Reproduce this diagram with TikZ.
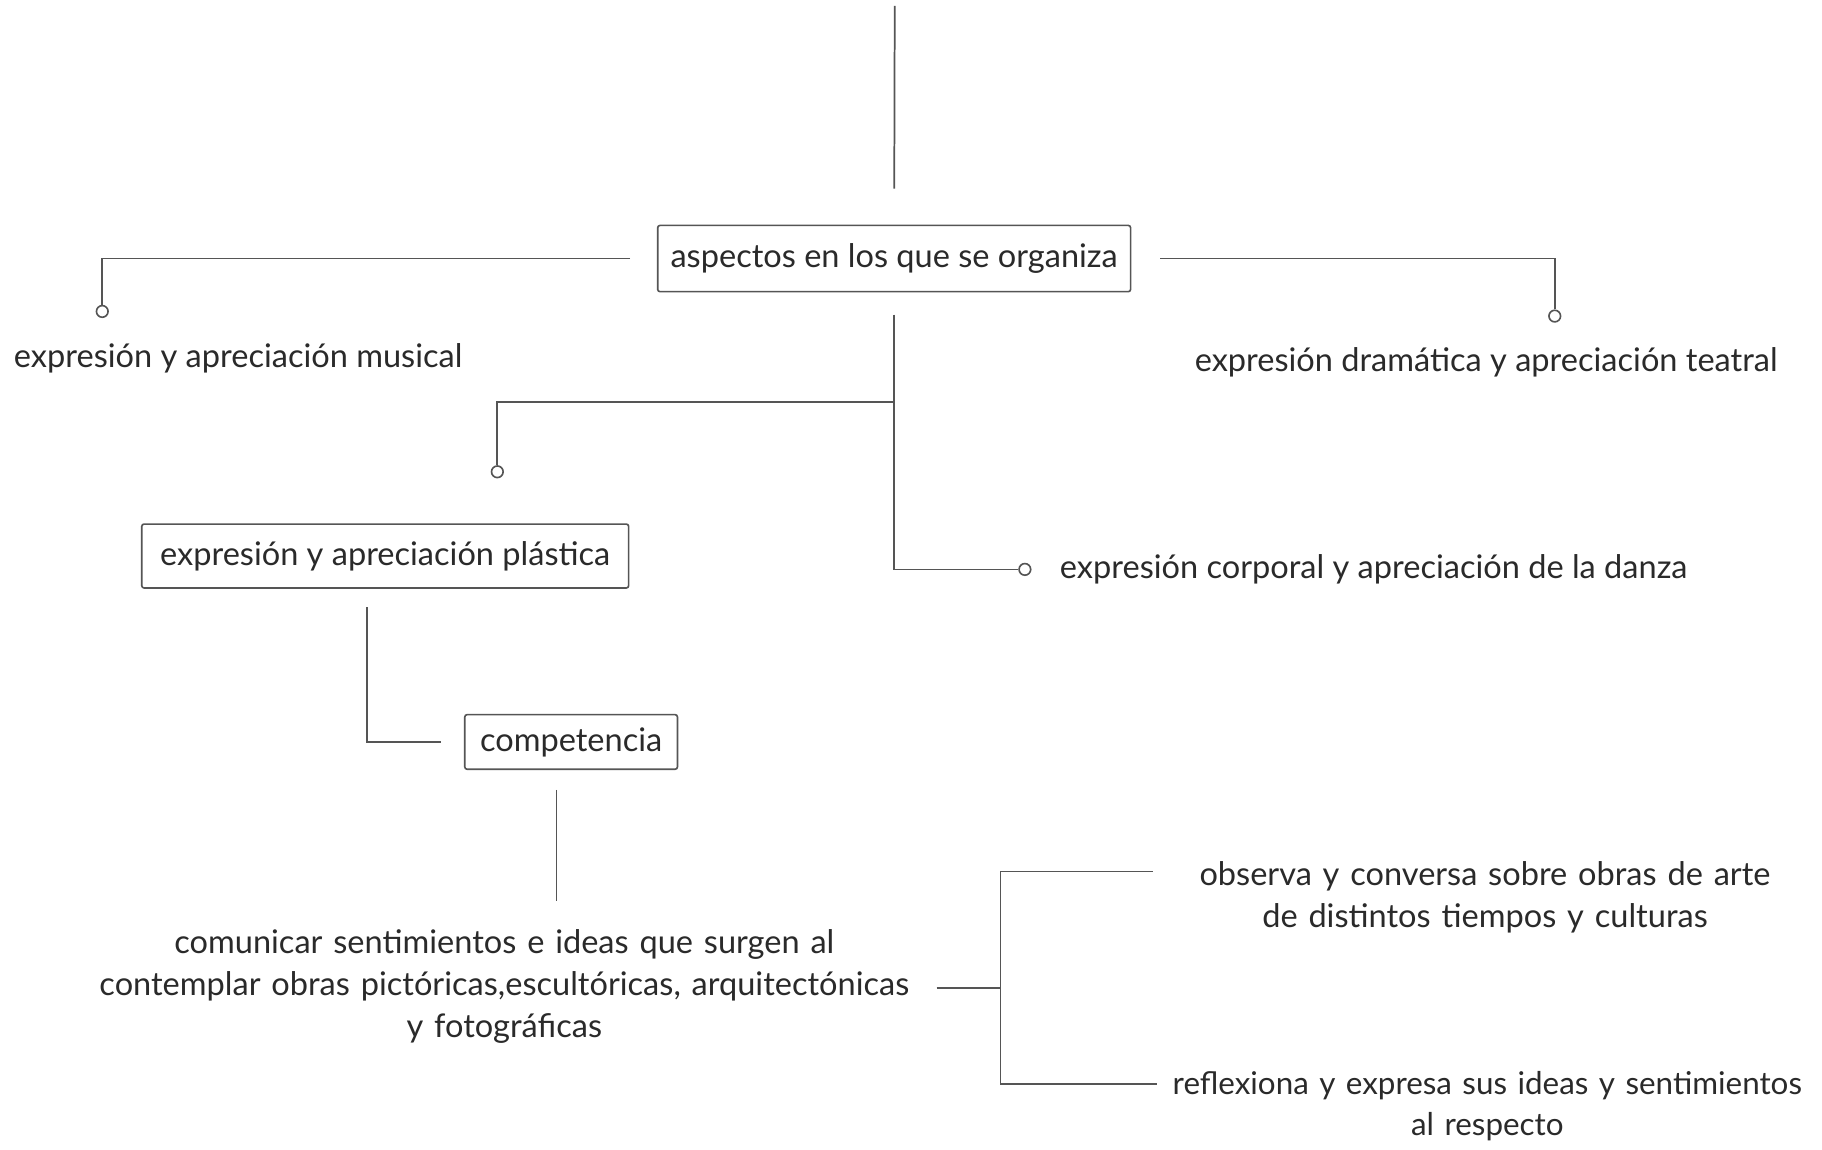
\documentclass[tikz,border=0pt]{standalone}
\usepackage{fontspec}
\setmainfont{Lato}
\usepackage{tikz}
\usetikzlibrary{positioning}
\definecolor{linegray}{HTML}{555555}
\definecolor{inkgray}{HTML}{2A2A2A}
\tikzset{x=1pt,y=-1pt,
  every node/.style={text=inkgray,font=\fontsize{28}{36}\selectfont},
  box/.style={draw=linegray,line width=1.4pt,rounded corners=2pt,inner sep=0pt},
  word/.style={inner sep=0pt,align=center},
  dot/.style={circle,draw=linegray,line width=1.4pt,fill=white,minimum size=10pt,inner sep=0pt},
  wire/.style={draw=linegray,line width=1.5pt}}
\begin{document}
\begin{tikzpicture}
    \useasboundingbox[fill=white] (0,0) rectangle (1568,989);
    \node[box,minimum width=407pt,minimum height=57pt] (aspectos) at (769.5,222.5) {aspectos en los que se organiza};
    \coordinate (top) at (770,5);
    \node[dot] (dmusical) at (88,268) {};
    \node[dot] (dteatral) at (1338,272) {};
    \node[dot] (dplastica) at (428,406) {};
    \node[dot] (ddanza) at (882,490) {};
    \node[word] (musical) at (205,308) {expresión y apreciación musical};
    \node[word] (teatral) at (1279,312) {expresión dramática y apreciación teatral};
    \node[word,anchor=west] (danza) at (912,490) {expresión corporal y apreciación de la danza};
    \node[box,minimum width=419pt,minimum height=55pt] (plastica) at (331.5,478.5) {expresión y apreciación plástica};
    \node[box,minimum width=183pt,minimum height=47pt] (competencia) at (491.5,638.5) {competencia};
    \node[word,text width=760pt] (comunicar) at (434,849) {comunicar sentimientos e ideas que surgen al\\contemplar obras pictóricas,escultóricas, arquitectónicas\\y fotográficas};
    \node[word,text width=600pt] (observa) at (1278,772) {observa y conversa sobre obras de arte\\de distintos tiempos y culturas};
    \node[word,text width=600pt,font=\fontsize{27}{35}\selectfont] (reflexiona) at (1280,952) {reflexiona y expresa sus ideas y sentimientos\\al respecto};
    \coordinate (split) at (770,346);
    \coordinate (cdown) at (479,775);
    \coordinate (fork) at (861,850);
    \coordinate (obranch) at (992,750);
    \coordinate (rbranch) at (996,933);

    \draw[wire,shorten >=31pt] (top) -- (aspectos.north);
    \draw[wire,shorten <=23pt] (aspectos.west) -| (dmusical.north);
    \draw[wire,shorten <=25pt] (aspectos.east) -| (dteatral.north);
    \draw[wire,shorten <=19pt] (aspectos.south) |- (ddanza.west);
    \draw[wire] (split) -| (dplastica.north);
    \draw[wire] ([xshift=-15.5pt,yshift=-16pt]plastica.south) |- ([xshift=-20pt]competencia.west);
    \draw[wire,shorten <=17pt] (competencia.south -| cdown) -- (cdown);
    \draw[wire] (806,850) -- (fork);
    \draw[wire] (obranch) -| (fork) |- (rbranch);
\end{tikzpicture}
\end{document}
